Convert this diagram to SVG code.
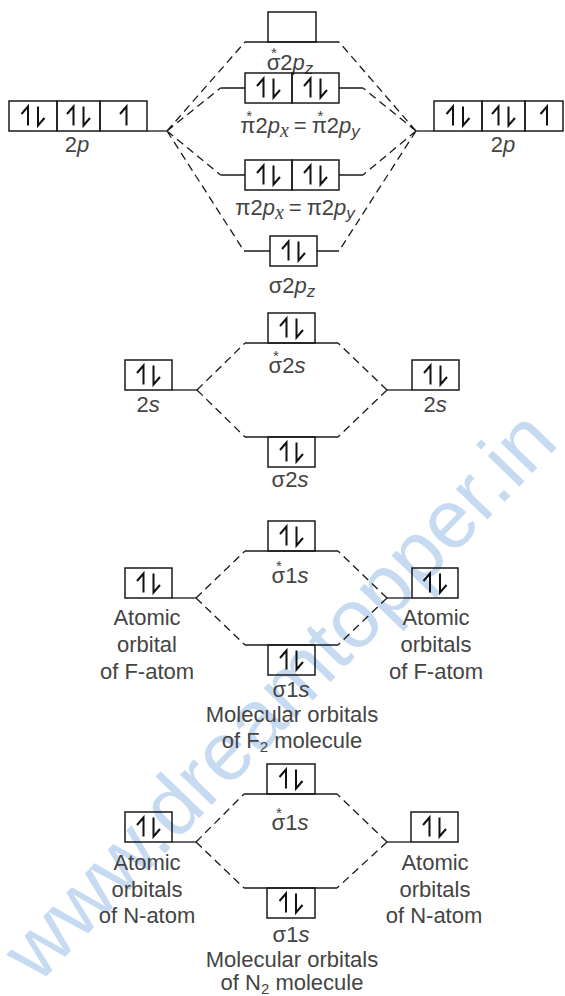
<svg xmlns="http://www.w3.org/2000/svg" xmlns:xlink="http://www.w3.org/1999/xlink" width="565" height="996" viewBox="0 0 565 996">
<style>
.bx{fill:none;stroke:#1a1a1a;stroke-width:1.5}
.lv{fill:none;stroke:#1a1a1a;stroke-width:1.3}
.cn{fill:none;stroke:#1a1a1a;stroke-width:1.3;stroke-dasharray:8 5}
.e{fill:none;stroke:#111;stroke-width:2;stroke-linejoin:miter}
.t{font-family:"Liberation Sans",Arial,sans-serif;font-size:22px;fill:#444;text-anchor:middle}
.i{font-style:italic}
.sub{font-size:17px}
.sx{font-family:"Liberation Serif","Times New Roman",serif;font-style:italic;font-size:20px}
.st{font-size:15px}
.wm{font-family:"Liberation Sans",Arial,sans-serif;font-size:83px;fill:#c6daf1}
</style>
<defs>
<g id="pr" class="e"><path d="M-5,9.5V-9.5L-11.5,-2"/><path d="M5,-9.5V9.5L11.5,2"/></g>
<g id="up" class="e"><path d="M0,9.5V-9.5L-6.5,-2"/></g>
</defs>
<rect width="565" height="996" fill="#fff"/>
<text class="wm" transform="translate(38,985) rotate(-46)">www.dreamtopper.in</text>

<g id="connectors">
<path class="cn" d="M167,131L245,42M167,131L220.5,88M167,131L220.5,175M167,131L244,251"/>
<path class="cn" d="M416,131L339,42M416,131L363,88M416,131L363,175M416,131L339,251"/>
<path class="cn" d="M197,390L245,343M197,390L245,437M387,390L338,343M387,390L338,437"/>
<path class="cn" d="M196,598L245,551M196,598L245,645M387,598L338,551M387,598L338,645"/>
<path class="cn" d="M196,842L244,794M196,842L244,888M387,842L337,794M387,842L337,888"/>
</g>

<g id="sigma-star-2pz">
<path class="lv" d="M245,42H339"/>
<rect class="bx" x="268" y="12" width="48" height="30"/>
<text class="t" x="290" y="70">σ<tspan class="st" dx="-9.2" dy="-12">*</tspan><tspan dx="3.4" dy="12">2</tspan><tspan class="i">p</tspan><tspan class="i sub" dy="4">z</tspan></text>
</g>
<g id="pi-star-2p">
<path class="lv" d="M220.5,88H245M339,88H363"/>
<rect class="bx" x="245" y="73" width="47" height="30"/>
<rect class="bx" x="292" y="73" width="47" height="30"/>
<use xlink:href="#pr" x="268.5" y="88"/>
<use xlink:href="#pr" x="315.5" y="88"/>
<text class="t" x="300" y="133">π<tspan class="st" dx="-9.2" dy="-12">*</tspan><tspan dx="3.4" dy="12">2</tspan><tspan class="i">p</tspan><tspan class="sx" dy="4">x</tspan><tspan dx="5" dy="-4">=</tspan><tspan dx="5">π</tspan><tspan class="st" dx="-9.2" dy="-12">*</tspan><tspan dx="3.4" dy="12">2</tspan><tspan class="i">p</tspan><tspan class="i sub" dy="4">y</tspan></text>
</g>
<g id="left-2p">
<rect class="bx" x="9" y="101" width="48" height="30"/>
<rect class="bx" x="57" y="101" width="43" height="30"/>
<rect class="bx" x="100" y="101" width="47" height="30"/>
<path class="lv" d="M147,131H167"/>
<use xlink:href="#pr" x="33" y="116"/>
<use xlink:href="#pr" x="78.5" y="116"/>
<use xlink:href="#up" x="126.5" y="116"/>
<text class="t" x="77" y="152">2<tspan class="i">p</tspan></text>
</g>
<g id="right-2p">
<rect class="bx" x="434" y="101" width="48" height="30"/>
<rect class="bx" x="482" y="101" width="43" height="30"/>
<rect class="bx" x="525" y="101" width="38" height="30"/>
<path class="lv" d="M416,131H434"/>
<use xlink:href="#pr" x="458" y="116"/>
<use xlink:href="#pr" x="503.5" y="116"/>
<use xlink:href="#up" x="547" y="116"/>
<text class="t" x="503" y="152">2<tspan class="i">p</tspan></text>
</g>
<g id="pi-2p">
<path class="lv" d="M220.5,175H245M339,175H363"/>
<rect class="bx" x="245" y="160" width="47" height="30"/>
<rect class="bx" x="292" y="160" width="47" height="30"/>
<use xlink:href="#pr" x="268.5" y="175"/>
<use xlink:href="#pr" x="315.5" y="175"/>
<text class="t" x="295" y="215">π2<tspan class="i">p</tspan><tspan class="sx" dy="4">x</tspan><tspan dx="5" dy="-4">=</tspan><tspan dx="5">π2</tspan><tspan class="i">p</tspan><tspan class="i sub" dy="4">y</tspan></text>
</g>
<g id="sigma-2pz">
<path class="lv" d="M244,251H270M317,251H339"/>
<rect class="bx" x="270" y="236" width="47" height="30"/>
<use xlink:href="#pr" x="293.5" y="251"/>
<text class="t" x="292" y="293">σ2<tspan class="i">p</tspan><tspan class="i sub" dy="4">z</tspan></text>
</g>

<g id="sigma-star-2s">
<path class="lv" d="M245,343H338"/>
<rect class="bx" x="268" y="313" width="47" height="30"/>
<use xlink:href="#pr" x="291.5" y="328"/>
<text class="t" x="287" y="373">σ<tspan class="st" dx="-9.2" dy="-12">*</tspan><tspan dx="3.4" dy="12">2</tspan><tspan class="i">s</tspan></text>
</g>
<g id="left-2s">
<rect class="bx" x="125" y="360" width="47" height="30"/>
<path class="lv" d="M172,390H197"/>
<use xlink:href="#pr" x="148.5" y="375"/>
<text class="t" x="148" y="412">2<tspan class="i">s</tspan></text>
</g>
<g id="right-2s">
<rect class="bx" x="412" y="360" width="47" height="30"/>
<path class="lv" d="M387,390H412"/>
<use xlink:href="#pr" x="435.5" y="375"/>
<text class="t" x="435" y="412">2<tspan class="i">s</tspan></text>
</g>
<g id="sigma-2s">
<path class="lv" d="M245,437H338"/>
<rect class="bx" x="268" y="437" width="47" height="30"/>
<use xlink:href="#pr" x="291.5" y="452"/>
<text class="t" x="290" y="487">σ2<tspan class="i">s</tspan></text>
</g>

<g id="sigma-star-1s-F">
<path class="lv" d="M245,551H338"/>
<rect class="bx" x="268" y="521" width="47" height="30"/>
<use xlink:href="#pr" x="291.5" y="536"/>
<text class="t" x="290" y="583">σ<tspan class="st" dx="-9.2" dy="-12">*</tspan><tspan dx="3.4" dy="12">1</tspan><tspan class="i">s</tspan></text>
</g>
<g id="left-1s-F">
<rect class="bx" x="125" y="568" width="47" height="30"/>
<path class="lv" d="M172,598H196"/>
<use xlink:href="#pr" x="148.5" y="583"/>
<text class="t" x="147" y="625">Atomic</text>
<text class="t" x="147" y="652">orbital</text>
<text class="t" x="147" y="679">of F-atom</text>
</g>
<g id="right-1s-F">
<rect class="bx" x="412" y="568" width="46" height="30"/>
<path class="lv" d="M387,598H412"/>
<use xlink:href="#pr" x="435" y="583"/>
<text class="t" x="436" y="625">Atomic</text>
<text class="t" x="436" y="652">orbitals</text>
<text class="t" x="436" y="679">of F-atom</text>
</g>
<g id="sigma-1s-F">
<path class="lv" d="M245,645H338"/>
<rect class="bx" x="268" y="645" width="47" height="30"/>
<use xlink:href="#pr" x="291.5" y="660"/>
<text class="t" x="291" y="697">σ1<tspan class="i">s</tspan></text>
<text class="t" x="292" y="722">Molecular orbitals</text>
<text class="t" x="292" y="748">of F<tspan font-size="15" dy="4">2</tspan><tspan dy="-4"> molecule</tspan></text>
</g>

<g id="sigma-star-1s-N">
<path class="lv" d="M244,794H337"/>
<rect class="bx" x="267" y="764" width="48" height="30"/>
<use xlink:href="#pr" x="291" y="779"/>
<text class="t" x="290" y="830">σ<tspan class="st" dx="-9.2" dy="-12">*</tspan><tspan dx="3.4" dy="12">1</tspan><tspan class="i">s</tspan></text>
</g>
<g id="left-1s-N">
<rect class="bx" x="125" y="812" width="47" height="30"/>
<path class="lv" d="M172,842H196"/>
<use xlink:href="#pr" x="148.5" y="827"/>
<text class="t" x="147" y="870">Atomic</text>
<text class="t" x="147" y="897">orbitals</text>
<text class="t" x="147" y="923">of N-atom</text>
</g>
<g id="right-1s-N">
<rect class="bx" x="411" y="812" width="47" height="30"/>
<path class="lv" d="M387,842H411"/>
<use xlink:href="#pr" x="434.5" y="827"/>
<text class="t" x="435" y="870">Atomic</text>
<text class="t" x="435" y="897">orbitals</text>
<text class="t" x="434" y="923">of N-atom</text>
</g>
<g id="sigma-1s-N">
<path class="lv" d="M244,888H337"/>
<rect class="bx" x="267" y="888" width="48" height="30"/>
<use xlink:href="#pr" x="291" y="903"/>
<text class="t" x="291" y="942">σ1<tspan class="i">s</tspan></text>
<text class="t" x="292" y="967">Molecular orbitals</text>
<text class="t" x="292" y="990">of N<tspan font-size="15" dy="4">2</tspan><tspan dy="-4"> molecule</tspan></text>
</g>
</svg>
